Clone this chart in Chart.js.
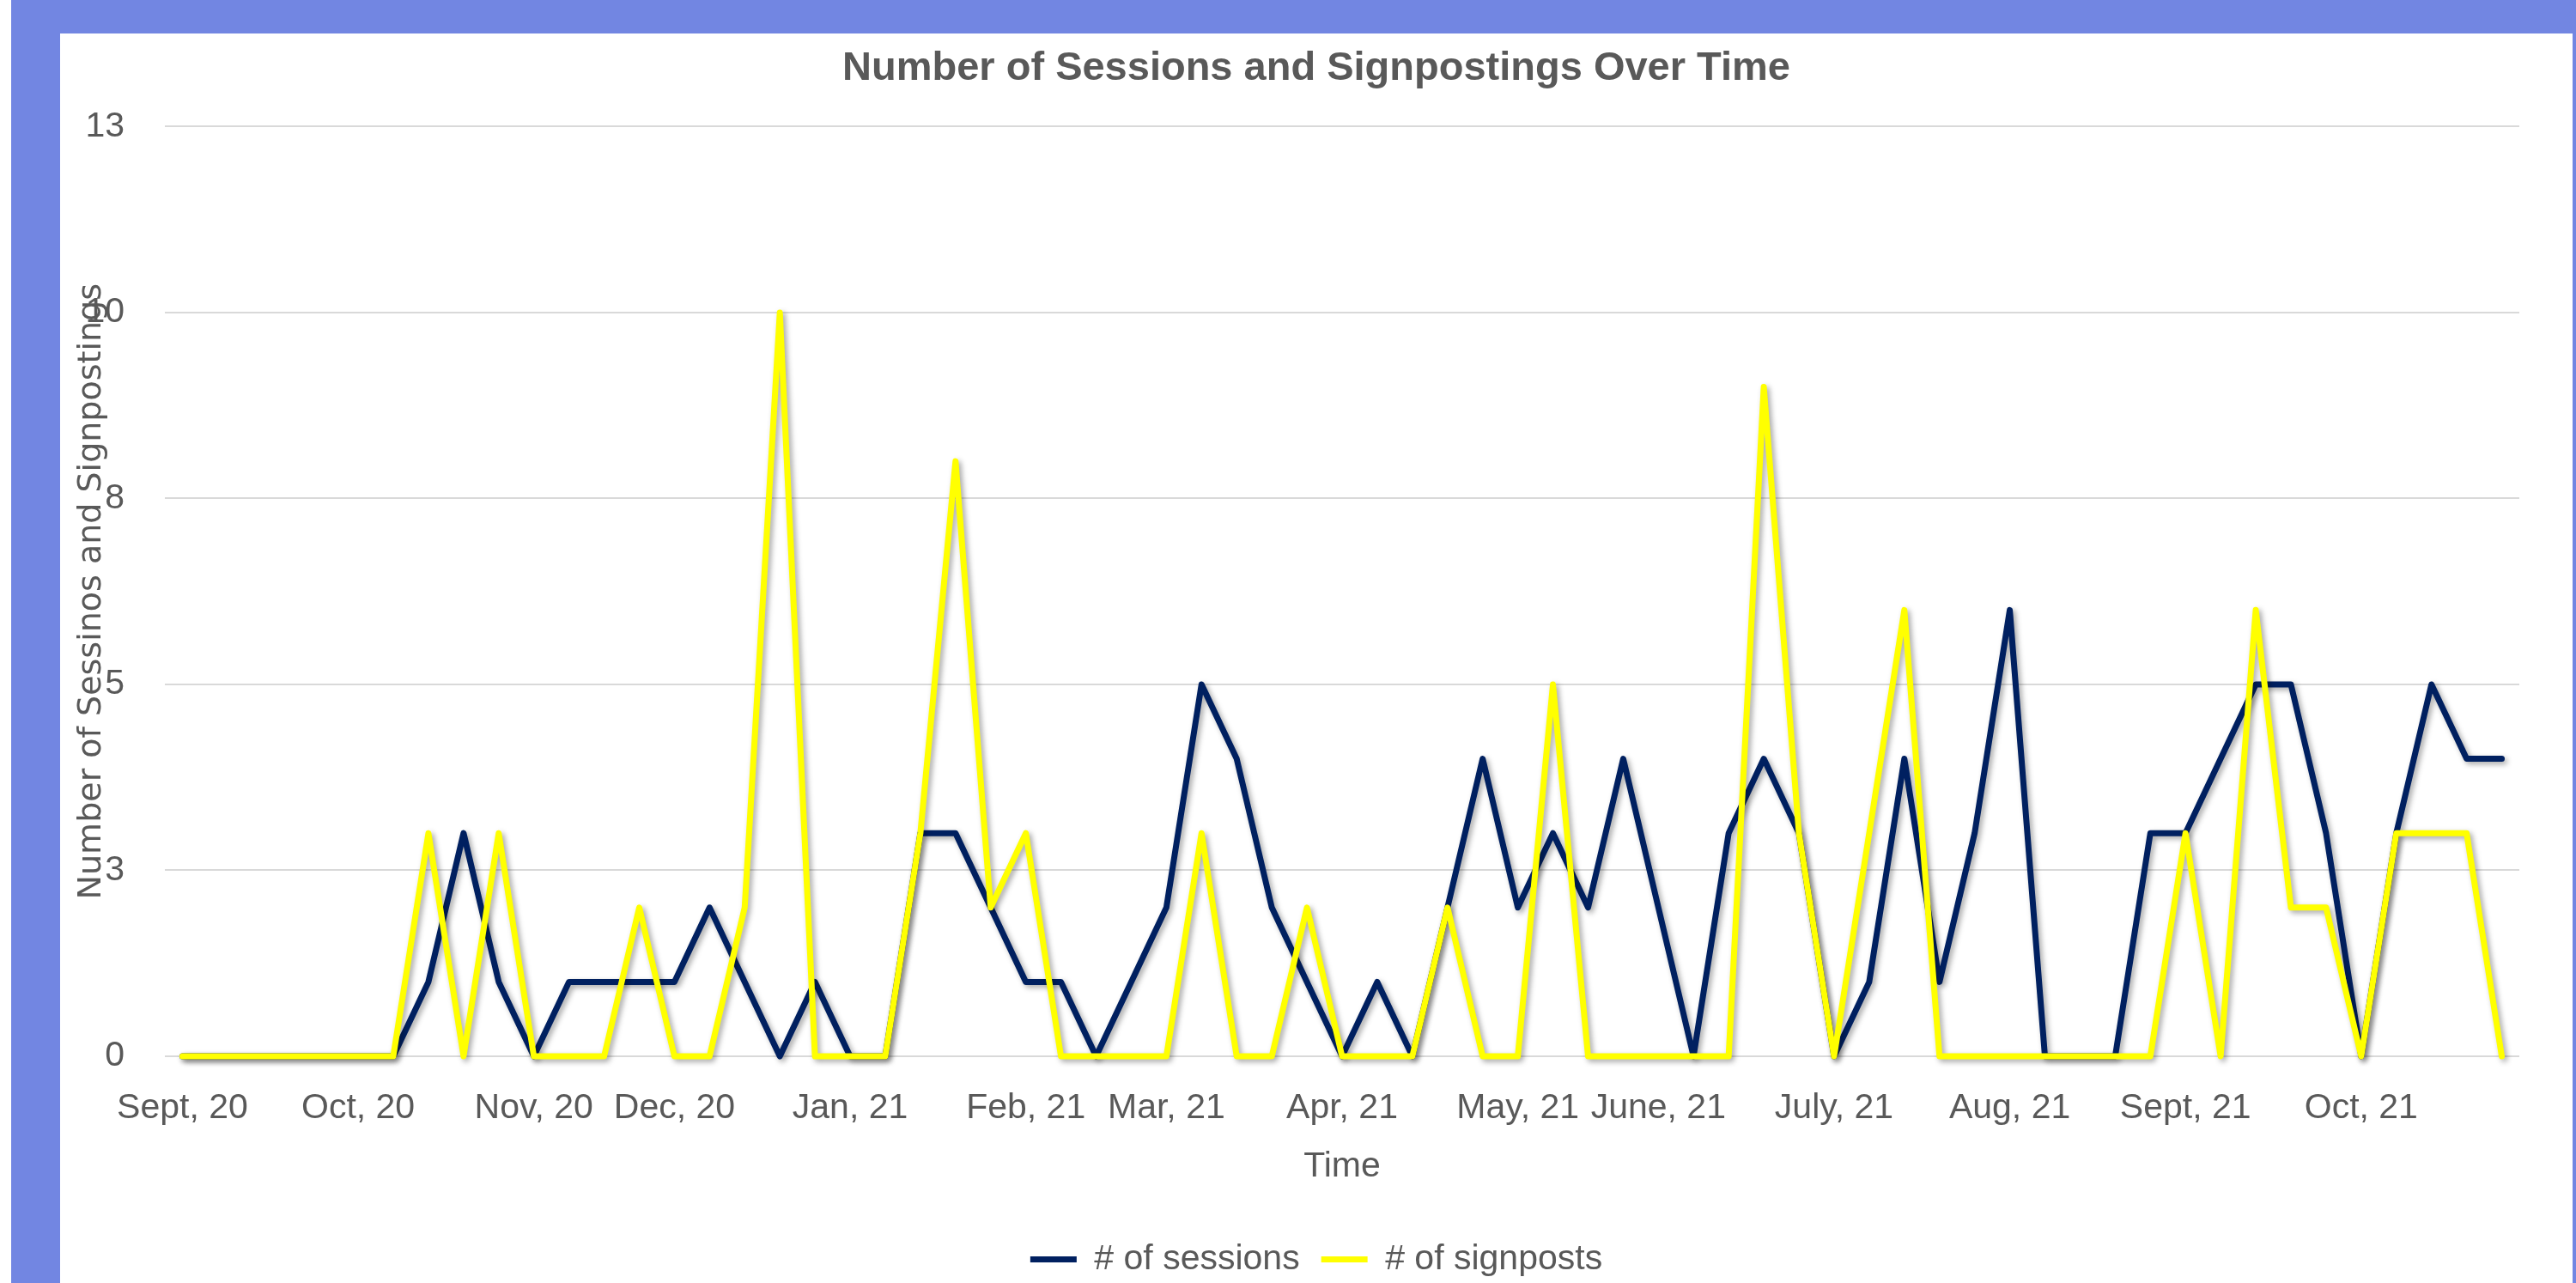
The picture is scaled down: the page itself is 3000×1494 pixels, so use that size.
<!DOCTYPE html>
<html>
<head>
<meta charset="utf-8">
<script src="https://cdn.jsdelivr.net/npm/chart.js@4"></script>
<style>
    html, body { margin: 0; padding: 0; background: #ffffff; overflow: hidden; }
    #frame { position: absolute; left: 13px; top: 0; width: 2987px; height: 1494px; background: #7286e2; }
    #panel { position: absolute; left: 70px; top: 39px; width: 2926px; height: 1458px; background: #ffffff; }
</style>
</head>
<body>
<div id="frame"></div>
<div id="panel"><canvas id="myChart" width="2926" height="1458"></canvas></div>
<script>
// weekly points, only the first week of each month carries a label
const weekLabels = [
    'Sept, 20', '', '', '', '', 'Oct, 20', '', '', '', '',
    'Nov, 20', '', '', '', 'Dec, 20', '', '', '', '', 'Jan, 21',
    '', '', '', '', 'Feb, 21', '', '', '', 'Mar, 21', '',
    '', '', '', 'Apr, 21', '', '', '', '', 'May, 21', '',
    '', '', 'June, 21', '', '', '', '', 'July, 21', '', '',
    '', '', 'Aug, 21', '', '', '', '', 'Sept, 21', '', '',
    '', '', 'Oct, 21', '', '', '', ''
];

const sessions = [
    0, 0, 0, 0, 0, 0, 0, 1, 3, 1,
    0, 1, 1, 1, 1, 2, 1, 0, 1, 0,
    0, 3, 3, 2, 1, 1, 0, 1, 2, 5,
    4, 2, 1, 0, 1, 0, 2, 4, 2, 3,
    2, 4, 2, 0, 3, 4, 3, 0, 1, 4,
    1, 3, 6, 0, 0, 0, 3, 3, 4, 5,
    5, 3, 0, 3, 5, 4, 4
];

const signposts = [
    0, 0, 0, 0, 0, 0, 0, 3, 0, 3,
    0, 0, 0, 2, 0, 0, 2, 10, 0, 0,
    0, 3, 8, 2, 3, 0, 0, 0, 0, 3,
    0, 0, 2, 0, 0, 0, 2, 0, 0, 5,
    0, 0, 0, 0, 0, 9, 3, 0, 3, 6,
    0, 0, 0, 0, 0, 0, 0, 3, 0, 6,
    2, 2, 0, 3, 3, 3, 0
];

// axis runs 0..12.5 in steps of 2.5, labels are rounded like the original
const yMax = 12.5;
const yStep = 2.5;

const textGrey = '#595959';
const navy = '#002060';
const yellow = '#ffff00';

// soft drop shadow under the lines, like the office chart
const lineShadow = {
    id: 'lineShadow',
    beforeDatasetDraw(chart) {
        const ctx = chart.ctx;
        ctx.save();
        ctx.shadowColor = 'rgba(0, 0, 0, 0.35)';
        ctx.shadowBlur = 6;
        ctx.shadowOffsetX = 3;
        ctx.shadowOffsetY = 3;
    },
    afterDatasetDraw(chart) {
        chart.ctx.restore();
    }
};

const data = {
    labels: weekLabels,
    datasets: [{
        label: '# of sessions',
        data: sessions,
        borderColor: navy,
        backgroundColor: navy,
        borderWidth: 7,
        pointRadius: 0,
        pointBorderWidth: 7,
        borderJoinStyle: 'round',
        borderCapStyle: 'round',
        tension: 0,
        clip: false,
        order: 2
    }, {
        label: '# of signposts',
        data: signposts,
        borderColor: yellow,
        backgroundColor: yellow,
        borderWidth: 7,
        pointRadius: 0,
        pointBorderWidth: 7,
        borderJoinStyle: 'round',
        borderCapStyle: 'round',
        tension: 0,
        clip: false,
        order: 1
    }]
};

const config = {
    type: 'line',
    data,
    options: {
        responsive: false,
        animation: false,
        devicePixelRatio: 1,
        layout: { padding: 0 },
        plugins: {
            title: {
                display: true,
                text: 'Number of Sessions and Signpostings Over Time',
                color: textGrey,
                font: { family: 'Liberation Sans', size: 47, weight: 'bold' },
                padding: { top: 13, bottom: 39 }
            },
            legend: {
                position: 'bottom',
                labels: {
                    usePointStyle: true,
                    pointStyle: 'line',
                    pointStyleWidth: 54,
                    padding: 25,
                    color: textGrey,
                    font: { family: 'Liberation Sans', size: 41 },
                    sort: (a, b) => a.datasetIndex - b.datasetIndex
                }
            },
            tooltip: { enabled: false }
        },
        scales: {
            x: {
                offset: true,
                grid: { display: false, drawTicks: false },
                border: { display: false },
                ticks: {
                    autoSkip: false,
                    maxRotation: 0,
                    minRotation: 0,
                    padding: 36,
                    color: textGrey,
                    font: { family: 'Liberation Sans', size: 41 }
                },
                title: {
                    display: true,
                    text: 'Time',
                    color: textGrey,
                    font: { family: 'Liberation Sans', size: 41 },
                    padding: { top: 0, bottom: 38 }
                },
                afterFit: function (scale) { scale.height = 191; }
            },
            y: {
                min: 0,
                max: yMax,
                grid: { color: '#d9d9d9', lineWidth: 2, drawTicks: false },
                border: { display: false },
                ticks: {
                    stepSize: yStep,
                    padding: 47,
                    color: textGrey,
                    font: { family: 'Liberation Sans', size: 41 },
                    callback: function (v) { return Math.round(v); }
                },
                title: {
                    display: true,
                    text: 'Number of Sessinos and Signpostings',
                    color: textGrey,
                    font: { family: 'DejaVu Sans', size: 38 },
                    padding: { top: 14, bottom: 0 }
                },
                afterFit: function (scale) { scale.width = 122; }
            },
            // empty scale on the right, only keeps the plot off the border
            yRight: {
                position: 'right',
                grid: { display: false, drawTicks: false },
                border: { display: false },
                ticks: { display: false },
                afterFit: function (scale) { scale.width = 62; }
            }
        }
    },
    plugins: [lineShadow]
};

var myChart = new Chart(document.getElementById('myChart'), config);
</script>
</body>
</html>
